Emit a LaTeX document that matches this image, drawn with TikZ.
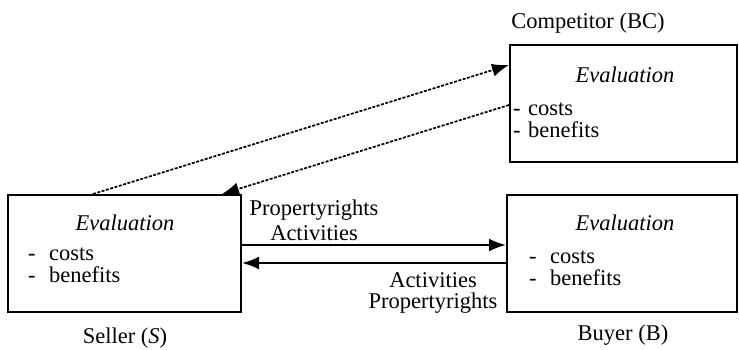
\documentclass[tikz,border=0pt]{standalone}
\usepackage{fontspec}
\setmainfont{Liberation Serif}
\usetikzlibrary{arrows.meta}

\begin{document}
\begin{tikzpicture}[x=1pt,y=1pt,font=\fontsize{22.5}{26}\selectfont]
\tikzstyle{every node}+=[inner sep=0pt]
\tikzstyle{party}=[draw=black,line width=2pt,minimum height=117pt]
\tikzstyle{flow}=[line width=2.2pt,-{Latex[length=17pt,width=13pt]}]
\tikzstyle{reply}=[line width=1.7pt,dash pattern=on 3pt off 1.5pt,-{Latex[length=17pt,width=13pt]}]
\useasboundingbox (0,0) rectangle (739,-349);
\node [party,minimum width=233pt] (seller) at (124.5,-253.5) {};
\node [party,minimum width=230pt] (buyer) at (622,-253) {};
\node [party,minimum width=227pt] (rival) at (623.5,-103.5) {};
\node [anchor=base] (sellereval) at (125,-230) {\textit{Evaluation}};
\node [anchor=base west] (sellercost) at (28,-260) {\makebox[21pt][l]{-}costs};
\node [anchor=base west] (sellerben) at (28,-282) {\makebox[21pt][l]{-}benefits};
\node [anchor=base] (buyereval) at (625,-230) {\textit{Evaluation}};
\node [anchor=base west] (buyercost) at (529,-263) {\makebox[21pt][l]{-}costs};
\node [anchor=base west] (buyerben) at (529,-285) {\makebox[21pt][l]{-}benefits};
\node [anchor=base] (rivaleval) at (625,-82) {\textit{Evaluation}};
\node [anchor=base west] (rivalcost) at (513,-115) {\makebox[15pt][l]{-}costs};
\node [anchor=base west] (rivalben) at (513,-137) {\makebox[15pt][l]{-}benefits};
\node [anchor=base] (sellername) at (125,-343) {Seller (\textit{S})};
\node [anchor=base] (buyername) at (623,-340) {Buyer (B)};
\node [anchor=base] (rivalname) at (588,-28) {Competitor (BC)};
\node [anchor=base] (tolabel) at (314,-215) {Propertyrights};
\node [anchor=base] (tolabel2) at (314,-240) {Activities};
\node [anchor=base] (backlabel) at (433,-287) {Activities};
\node [anchor=base] (backlabel2) at (433,-308) {Propertyrights};
\draw [flow] ([yshift=8.5pt]seller.east) -- ([yshift=8pt]buyer.west);
\draw [flow] ([yshift=-10pt]buyer.west) -- ([yshift=-9.5pt]seller.east);
\draw [reply] ([xshift=-31.5pt]seller.north) -- ([yshift=38.5pt]rival.west);
\draw [reply] ([yshift=-1.5pt]rival.west) -- ([xshift=97.5pt]seller.north);
\end{tikzpicture}
\end{document}
